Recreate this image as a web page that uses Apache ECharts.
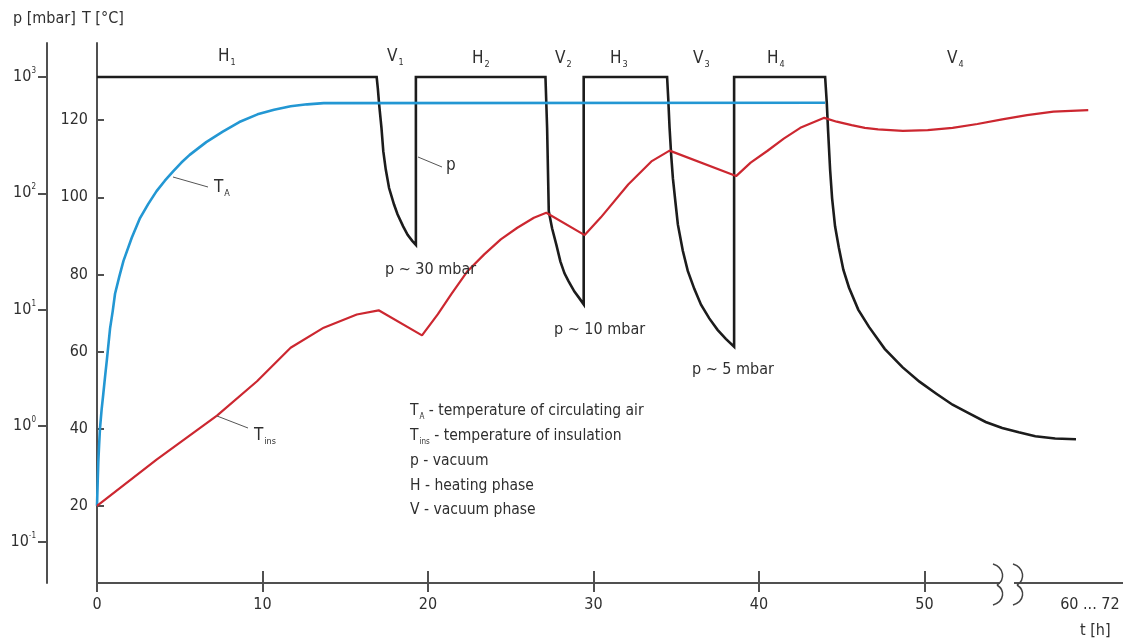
<!DOCTYPE html>
<html><head><meta charset="utf-8">
<script src="https://cdn.jsdelivr.net/npm/echarts@6/dist/echarts.min.js"></script>
<style>html,body{margin:0;padding:0;background:#fff}#c{width:1123px;height:641px}</style>
</head><body><div id="c"></div><script>
const FONT = "'Liberation Sans Narrow','DejaVu Sans Condensed','Roboto Condensed',sans-serif";
const TXT = '#2f2f2f';
const AX = '#505050';

// ---- tick / label values ----
const xTickValues = [0, 10, 20, 30, 40, 50];
const xLabelValues = [0, 10, 20, 30, 40, 50, 60];
const xLabelTexts = { 60: '60 ... 72' };
const tempTicks = [20, 40, 60, 80, 100, 120];
const pTicks = [0.1, 1, 10, 100, 1000];

// ---- T_A : temperature of circulating air [°C] ----
const taTime = [0, 0.04, 0.08, 0.13, 0.18, 0.28, 0.38, 0.5, 0.6, 0.79, 0.95, 1.09, 1.35, 1.6, 2.1, 2.6, 3.1, 3.6, 4.1, 4.6, 5.1, 5.6, 6.6, 7.6, 8.6, 9.7, 10.7, 11.7, 12.7, 13.7, 44.0];
const taTemp = [20, 26, 31.5, 36, 40, 45, 49, 54, 58, 66, 70.5, 75, 79.5, 83.5, 89.5, 94.6, 98.3, 101.6, 104.3, 106.7, 109, 111, 114.3, 117, 119.5, 121.5, 122.7, 123.6, 124.1, 124.4, 124.5];

// ---- T_ins : temperature of insulation [°C] ----
const insTime = [0, 3.6, 7.25, 9.67, 11.7, 13.7, 15.7, 17.02, 19.64, 20.6, 21.4, 22.4, 23.4, 24.4, 25.4, 26.4, 27.15, 29.47, 30.45, 32.1, 33.5, 34.6, 38.62, 39.5, 40.5, 41.5, 42.5, 43.95, 44.7, 45.6, 46.4, 47.2, 48.7, 50.2, 51.7, 53.2, 54.7, 56.2, 57.8, 59.9];
const insTemp = [20, 32, 43.4, 52.3, 61, 66.2, 69.6, 70.7, 64.2, 69.7, 74.8, 80.9, 85.2, 89.1, 92.1, 94.7, 96, 90.2, 94.8, 103.3, 109.3, 112.1, 105.5, 109, 112, 115.2, 118, 120.6, 119.6, 118.7, 118, 117.6, 117.2, 117.4, 118, 119, 120.2, 121.3, 122.2, 122.6];

// ---- p : vacuum [mbar] ----
const pTime = [0, 16.9, 16.97, 17.05, 17.19, 17.3, 17.45, 17.65, 17.95, 18.16, 18.5, 18.77, 19.05, 19.27,
  19.27, 27.1, 27.2, 27.3, 27.5, 27.76, 28.0, 28.25, 28.5, 28.85, 29.1, 29.41,
  29.41, 34.45, 34.52, 34.6, 34.7, 34.8, 34.95, 35.1, 35.4, 35.7, 36.1, 36.5, 37.0, 37.5, 38.0, 38.5,
  38.5, 44.0, 44.1, 44.18, 44.3, 44.42, 44.6, 44.83, 45.1, 45.44, 46.0, 46.65, 47.6, 48.67, 49.7, 50.7, 51.7, 52.7, 53.7, 54.7, 55.7, 56.7, 57.9, 59.16];
const pValue = [1000, 1000, 800, 580, 366, 230, 160, 111, 80, 66, 52, 44, 39, 36,
  1000, 1000, 363, 70, 50, 36, 26, 20.5, 17.5, 14.3, 12.8, 11.1,
  1000, 1000, 650, 365, 210, 135, 85, 54, 32, 21.5, 15, 11, 8.4, 6.7, 5.6, 4.8,
  1000, 1000, 600, 342, 160, 91, 52, 34, 22, 15.5, 10, 7.1, 4.6, 3.2, 2.4, 1.9, 1.52, 1.28, 1.08, 0.96, 0.88, 0.815, 0.78, 0.767];

const zip = (a, b) => a.map((v, i) => [v, b[i]]);

function rt(x, y, text, size, extra) {
  return Object.assign({
    type: 'text', z: 100, silent: true,
    style: {
      x: x, y: y, text: text, fill: TXT, fontFamily: FONT, fontSize: size,
      verticalAlign: 'middle', align: 'left',
      rich: {
        m: { fontSize: size, fontFamily: FONT, fill: TXT, lineHeight: size + 4 },
        s: { fontSize: Math.round(size * 0.5), fontFamily: FONT, fill: TXT, verticalAlign: 'bottom', lineHeight: size + 4, padding: [0, 0, 0, 1] }
      }
    }
  }, extra || {});
}
function leader(x1, y1, x2, y2) {
  return { type: 'line', z: 100, silent: true, shape: { x1, y1, x2, y2 }, style: { stroke: '#555', lineWidth: 1 } };
}
function squiggle(x0) {
  return [
    { type: 'bezierCurve', z: 101, silent: true, shape: { x1: x0, y1: 564, cpx1: x0 + 12, cpy1: 568, cpx2: x0 + 12, cpy2: 580, x2: x0 + 4, y2: 585 }, style: { stroke: '#444', lineWidth: 1.5, fill: null } },
    { type: 'bezierCurve', z: 101, silent: true, shape: { x1: x0 + 4, y1: 585, cpx1: x0 + 12, cpy1: 590, cpx2: x0 + 12, cpy2: 601, x2: x0, y2: 605 }, style: { stroke: '#444', lineWidth: 1.5, fill: null } }
  ];
}

const chart = echarts.init(document.getElementById('c'), null, { renderer: 'canvas' });
chart.setOption({
  animation: false,
  backgroundColor: '#fff',
  grid: { left: 97, right: 0, top: 43, bottom: 58, containLabel: false, outerBoundsMode: 'none' },
  xAxis: [{
    type: 'value', min: 0, max: 62, position: 'bottom',
    axisLine: { show: true, onZero: false, lineStyle: { color: AX, width: 2 } },
    axisTick: { show: true, length: 9, lineStyle: { color: AX, width: 2 }, customValues: xTickValues },
    axisLabel: { show: true, margin: 14, color: TXT, fontFamily: FONT, fontSize: 16, customValues: xLabelValues,
      formatter: v => xLabelTexts[v] || String(v) },
    splitLine: { show: false }
  }, {
    type: 'value', min: 0, max: 62, position: 'bottom',
    axisLine: { show: false, onZero: false },
    axisTick: { show: true, inside: true, length: 12, lineStyle: { color: AX, width: 2 }, customValues: xTickValues },
    axisLabel: { show: false },
    splitLine: { show: false }
  }],
  yAxis: [{
    type: 'value', min: 0, max: 140, position: 'left', offset: 0,
    axisLine: { show: true, onZero: false, lineStyle: { color: AX, width: 2 } },
    axisTick: { show: true, inside: true, length: 7, lineStyle: { color: AX, width: 2 }, customValues: tempTicks },
    axisLabel: { show: true, margin: 9, color: TXT, fontFamily: FONT, fontSize: 16, customValues: tempTicks },
    splitLine: { show: false }
  }, {
    type: 'log', logBase: 10, min: Math.pow(10, -1.351), max: Math.pow(10, 3.2923), position: 'left', offset: 50,
    axisLine: { show: true, onZero: false, lineStyle: { color: AX, width: 2 } },
    axisTick: { show: true, inside: false, length: 9, lineStyle: { color: AX, width: 2 }, customValues: pTicks },
    axisLabel: { show: true, margin: 11, color: TXT, fontFamily: FONT, fontSize: 16, customValues: pTicks,
      formatter: v => '{b|10}{e|' + Math.round(Math.log10(v)) + '}',
      rich: {
        b: { fontSize: 16, fontFamily: FONT, color: TXT, lineHeight: 20 },
        e: { fontSize: 8, fontFamily: FONT, color: TXT, verticalAlign: 'top', lineHeight: 20 }
      } },
    splitLine: { show: false }
  }],
  series: [{
    name: 'TA', type: 'line', xAxisIndex: 0, yAxisIndex: 0, data: zip(taTime, taTemp),
    showSymbol: false, smooth: false, silent: true,
    lineStyle: { color: '#2397d3', width: 2.6 }, z: 3
  }, {
    name: 'Tins', type: 'line', xAxisIndex: 0, yAxisIndex: 0, data: zip(insTime, insTemp),
    showSymbol: false, smooth: false, silent: true,
    lineStyle: { color: '#cc2730', width: 2.2 }, z: 4
  }, {
    name: 'p', type: 'line', xAxisIndex: 0, yAxisIndex: 1, data: zip(pTime, pValue),
    showSymbol: false, smooth: false, silent: true,
    lineStyle: { color: '#1c1c1c', width: 2.6, join: 'miter' }, z: 2
  }],
  graphic: [
    rt(13, 19, 'p [mbar]', 16),
    rt(82, 19, 'T [°C]', 16),
    rt(1080, 631, 't [h]', 16),
    // phase labels
    rt(218, 57, '{m|H}{s|1}', 17),
    rt(387, 57, '{m|V}{s|1}', 17),
    rt(472, 59, '{m|H}{s|2}', 17),
    rt(555, 59, '{m|V}{s|2}', 17),
    rt(610, 59, '{m|H}{s|3}', 17),
    rt(693, 59, '{m|V}{s|3}', 17),
    rt(767, 59, '{m|H}{s|4}', 17),
    rt(947, 59, '{m|V}{s|4}', 17),
    // curve annotations
    leader(173, 177, 208, 187),
    rt(214, 188, '{m|T}{s|A}', 17),
    leader(217, 416, 248, 428),
    rt(254, 436, '{m|T}{s|ins}', 17),
    leader(418, 157, 442, 167),
    rt(446, 166, 'p', 17),
    rt(385, 270, 'p ~ 30 mbar', 16),
    rt(554, 330, 'p ~ 10 mbar', 16),
    rt(692, 370, 'p ~ 5 mbar', 16),
    // key
    rt(410, 411, '{m|T}{s|A}{m| - temperature of circulating air}', 15.5),
    rt(410, 436, '{m|T}{s|ins}{m| - temperature of insulation}', 15.5),
    rt(410, 461, 'p - vacuum', 15.5),
    rt(410, 486, 'H - heating phase', 15.5),
    rt(410, 510, 'V - vacuum phase', 15.5),
    // axis break
    { type: 'rect', z: 100, silent: true, shape: { x: 1000, y: 578, width: 14, height: 10 }, style: { fill: '#fff' } },
    ...squiggle(993),
    ...squiggle(1013)
  ]
});
</script></body></html>
